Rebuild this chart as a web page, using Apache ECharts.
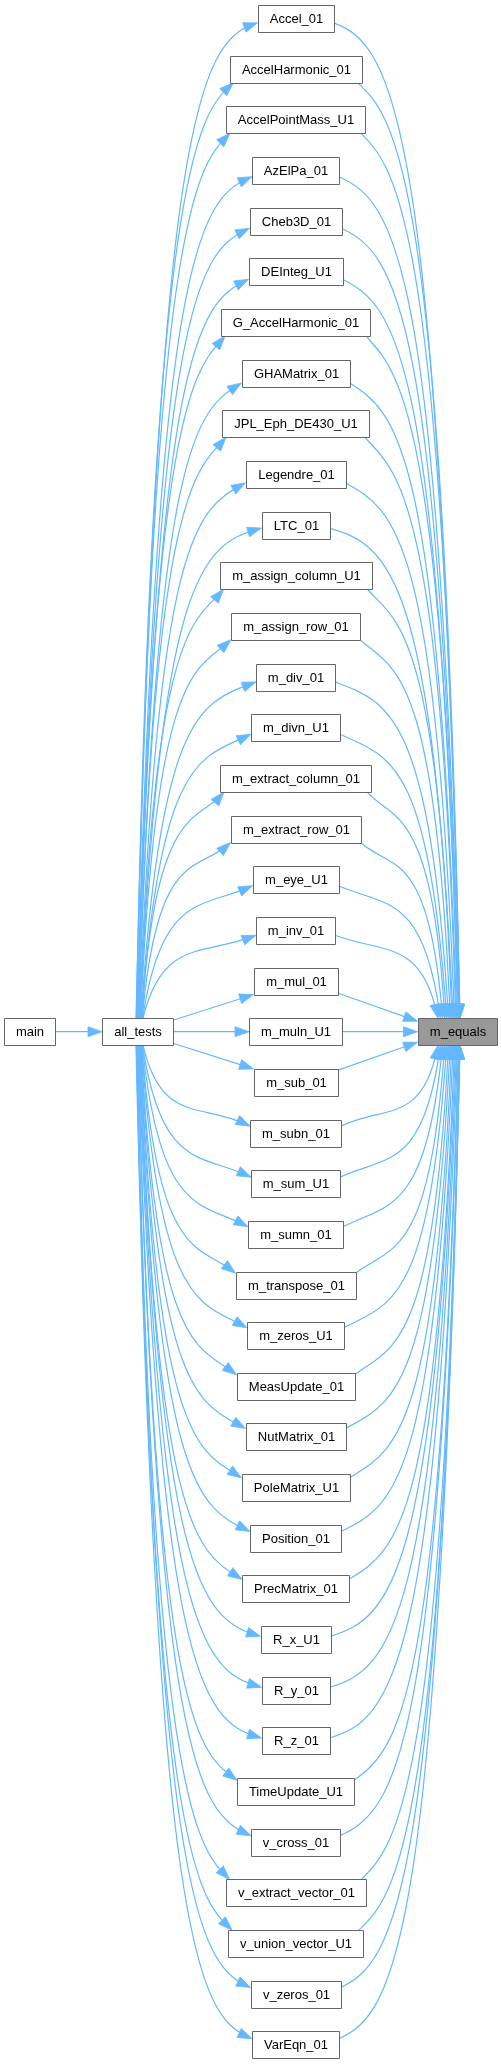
<!DOCTYPE html>
<html>
<head>
<meta charset="utf-8">
<script src="https://cdn.jsdelivr.net/npm/echarts@6/dist/echarts.min.js"></script>
<style>
  html, body { margin: 0; padding: 0; background: #fff; }
  #chart { width: 501px; height: 2064px; }
</style>
</head>
<body>
<div id="chart"></div>
<script>
// call graph: main -> all_tests -> <test> -> m_equals
var callerNames = ['main'];
var driverName = 'all_tests';
var targetName = 'm_equals';
var testNames = [
  'Accel_01', 'AccelHarmonic_01', 'AccelPointMass_U1', 'AzElPa_01', 'Cheb3D_01',
  'DEInteg_U1', 'G_AccelHarmonic_01', 'GHAMatrix_01', 'JPL_Eph_DE430_U1', 'Legendre_01',
  'LTC_01', 'm_assign_column_U1', 'm_assign_row_01', 'm_div_01', 'm_divn_U1',
  'm_extract_column_01', 'm_extract_row_01', 'm_eye_U1', 'm_inv_01', 'm_mul_01',
  'm_muln_U1', 'm_sub_01', 'm_subn_01', 'm_sum_U1', 'm_sumn_01',
  'm_transpose_01', 'm_zeros_U1', 'MeasUpdate_01', 'NutMatrix_01', 'PoleMatrix_U1',
  'Position_01', 'PrecMatrix_01', 'R_x_U1', 'R_y_01', 'R_z_01',
  'TimeUpdate_U1', 'v_cross_01', 'v_extract_vector_01', 'v_union_vector_U1', 'v_zeros_01',
  'VarEqn_01'
];

var FONT_FAMILY = '"Liberation Sans", Arial, Helvetica, sans-serif';
var EDGE_COLOR = '#63b8ff';
var ROW = 50.66, TOP = 18.5, BOX_H = 27;
var ARROW_L = 14, ARROW_W = 5;

var ctx = document.createElement('canvas').getContext('2d');
ctx.font = '13px ' + FONT_FAMILY;
function boxWidth(name) {
  return Math.max(46, Math.round(ctx.measureText(name).width + 23));
}

var midIdx = Math.floor(testNames.length / 2);
var MID = TOP + ROW * midIdx;
var COL = { caller: 29.5, driver: 137.5, test: 295.5, target: 457 };

var nodes = [];
function addNode(name, cx, cy, fill) {
  var w = boxWidth(name);
  var n = {
    name: name, cx: cx, cy: cy, w: w, fill: fill,
    x0: cx - w / 2, x1: cx + w / 2, y0: cy - BOX_H / 2, y1: cy + BOX_H / 2
  };
  nodes.push(n);
  return n;
}

var callerNodes = callerNames.map(function (n) { return addNode(n, COL.caller, MID, '#ffffff'); });
var driver = addNode(driverName, COL.driver, MID, '#ffffff');
var target = addNode(targetName, COL.target, MID, '#999999');
var testNodes = testNames.map(function (n, i) { return addNode(n, COL.test, TOP + ROW * i, '#ffffff'); });

// edge geometry: cubic beziers [p0, c1, c2, p3], arrow drawn at p3
var edges = [];
function straight(a, b) {
  edges.push([a, [a[0] + (b[0] - a[0]) / 3, a[1] + (b[1] - a[1]) / 3],
    [a[0] + 2 * (b[0] - a[0]) / 3, a[1] + 2 * (b[1] - a[1]) / 3], b]);
}

callerNodes.forEach(function (c) { straight([c.x1, c.cy], [driver.x0, driver.cy]); });

testNodes.forEach(function (t, i) {
  var d = i - midIdx;
  var s = d < 0 ? -1 : 1;            // -1 = above the spine, 1 = below
  var ad = Math.abs(d);
  if (ad === 0) {
    straight([driver.x1, driver.cy], [t.x0, t.cy]);
    straight([t.x1, t.cy], [target.x0, target.cy]);
    return;
  }
  if (ad === 1) {
    straight([driver.x1, driver.cy + s * 11.5], [t.x0, t.cy - s * 13.5]);
    straight([t.x1, t.cy - s * 12], [target.x0, target.cy + s * 10.5]);
    return;
  }
  var w = (midIdx - ad) / (midIdx - 2);   // 1 near the spine, 0 far out
  var sx = COL.driver - 1.5 + 7 * w;
  var ex = COL.target + 3 - 22 * w * w;
  var H = Math.abs(t.cy - MID) - BOX_H / 2;
  var theta = Math.max(15, Math.min(50, 20 + (257 - t.x0) * 0.83)) * Math.PI / 180;
  var cs = Math.cos(theta), sn = Math.sin(theta);
  var hit;
  if (theta >= 42 * Math.PI / 180) hit = -s * (BOX_H / 2);
  else hit = -s * (4.5 + (theta * 180 / Math.PI - 20) / 22 * 9);
  var hitX = theta >= 42 * Math.PI / 180 ? 4 : 0;

  // driver -> test
  var p0 = [sx, s < 0 ? driver.y0 : driver.y1];
  var p3 = [t.x0 + hitX, t.cy + hit];
  var L = 0.5 * (t.x0 - sx);
  var c2 = [p3[0] - L * cs, p3[1] - s * L * sn];
  var c1 = [sx + 0.17 * (t.x0 - sx), t.cy - s * 0.1 * H];
  edges.push([p0, c1, c2, p3]);

  // test -> target
  var q0 = [t.x1 - hitX, t.cy + hit];
  var q3 = [ex, s < 0 ? target.y0 : target.y1];
  var L2 = 0.5 * (ex - t.x1);
  var d1 = [q0[0] + L2 * cs, q0[1] - s * L2 * sn];
  var d2 = [ex - 0.17 * (ex - t.x1), t.cy - s * 0.1 * H];
  edges.push([q0, d1, d2, q3]);
});

function renderEdge(params, api) {
  var pts = edges[params.dataIndex].map(function (p) { return api.coord(p); });
  var tip = pts[3], from = pts[2];
  var dx = tip[0] - from[0], dy = tip[1] - from[1];
  var len = Math.sqrt(dx * dx + dy * dy) || 1;
  var ux = dx / len, uy = dy / len;
  var bx = tip[0] - ux * ARROW_L, by = tip[1] - uy * ARROW_L;
  return {
    type: 'group',
    children: [{
      type: 'bezierCurve',
      shape: {
        x1: pts[0][0], y1: pts[0][1],
        cpx1: pts[1][0], cpy1: pts[1][1],
        cpx2: pts[2][0], cpy2: pts[2][1],
        x2: tip[0] - ux * 4, y2: tip[1] - uy * 4
      },
      style: { stroke: EDGE_COLOR, fill: null, lineWidth: 1.2 }
    }, {
      type: 'polygon',
      shape: { points: [tip, [bx - uy * ARROW_W, by + ux * ARROW_W], [bx + uy * ARROW_W, by - ux * ARROW_W]] },
      style: { fill: EDGE_COLOR, stroke: EDGE_COLOR, lineWidth: 0.8 }
    }]
  };
}

function renderNode(params, api) {
  var n = nodes[params.dataIndex];
  var a = api.coord([n.x0, n.y0]), b = api.coord([n.x1, n.y1]);
  var x = Math.round(a[0]) + 0.5, y = Math.round(a[1]) + 0.5;
  var w = Math.round(b[0] - a[0]), h = Math.round(b[1] - a[1]);
  return {
    type: 'group',
    children: [{
      type: 'rect',
      shape: { x: x, y: y, width: w, height: h },
      style: { fill: n.fill, stroke: '#666666', lineWidth: 1 }
    }, {
      type: 'text',
      style: {
        text: n.name, x: x + w / 2, y: y + h / 2 + 0.5,
        align: 'center', verticalAlign: 'middle',
        font: '13px ' + FONT_FAMILY, fill: '#000000'
      }
    }]
  };
}

var chart = echarts.init(document.getElementById('chart'), null, { renderer: 'canvas' });
chart.setOption({
  animation: false,
  backgroundColor: '#ffffff',
  grid: { left: 0, right: 0, top: 0, bottom: 0 },
  xAxis: { type: 'value', min: 0, max: 501, show: false },
  yAxis: { type: 'value', min: 0, max: 2064, inverse: true, show: false },
  series: [{
    type: 'custom',
    name: 'calls',
    clip: false,
    silent: true,
    renderItem: renderEdge,
    encode: { x: 0, y: 1 },
    data: edges.map(function (e) { return e[3]; })
  }, {
    type: 'custom',
    name: 'functions',
    clip: false,
    silent: true,
    renderItem: renderNode,
    encode: { x: 0, y: 1 },
    data: nodes.map(function (n) { return [n.cx, n.cy]; })
  }]
});
</script>
</body>
</html>
